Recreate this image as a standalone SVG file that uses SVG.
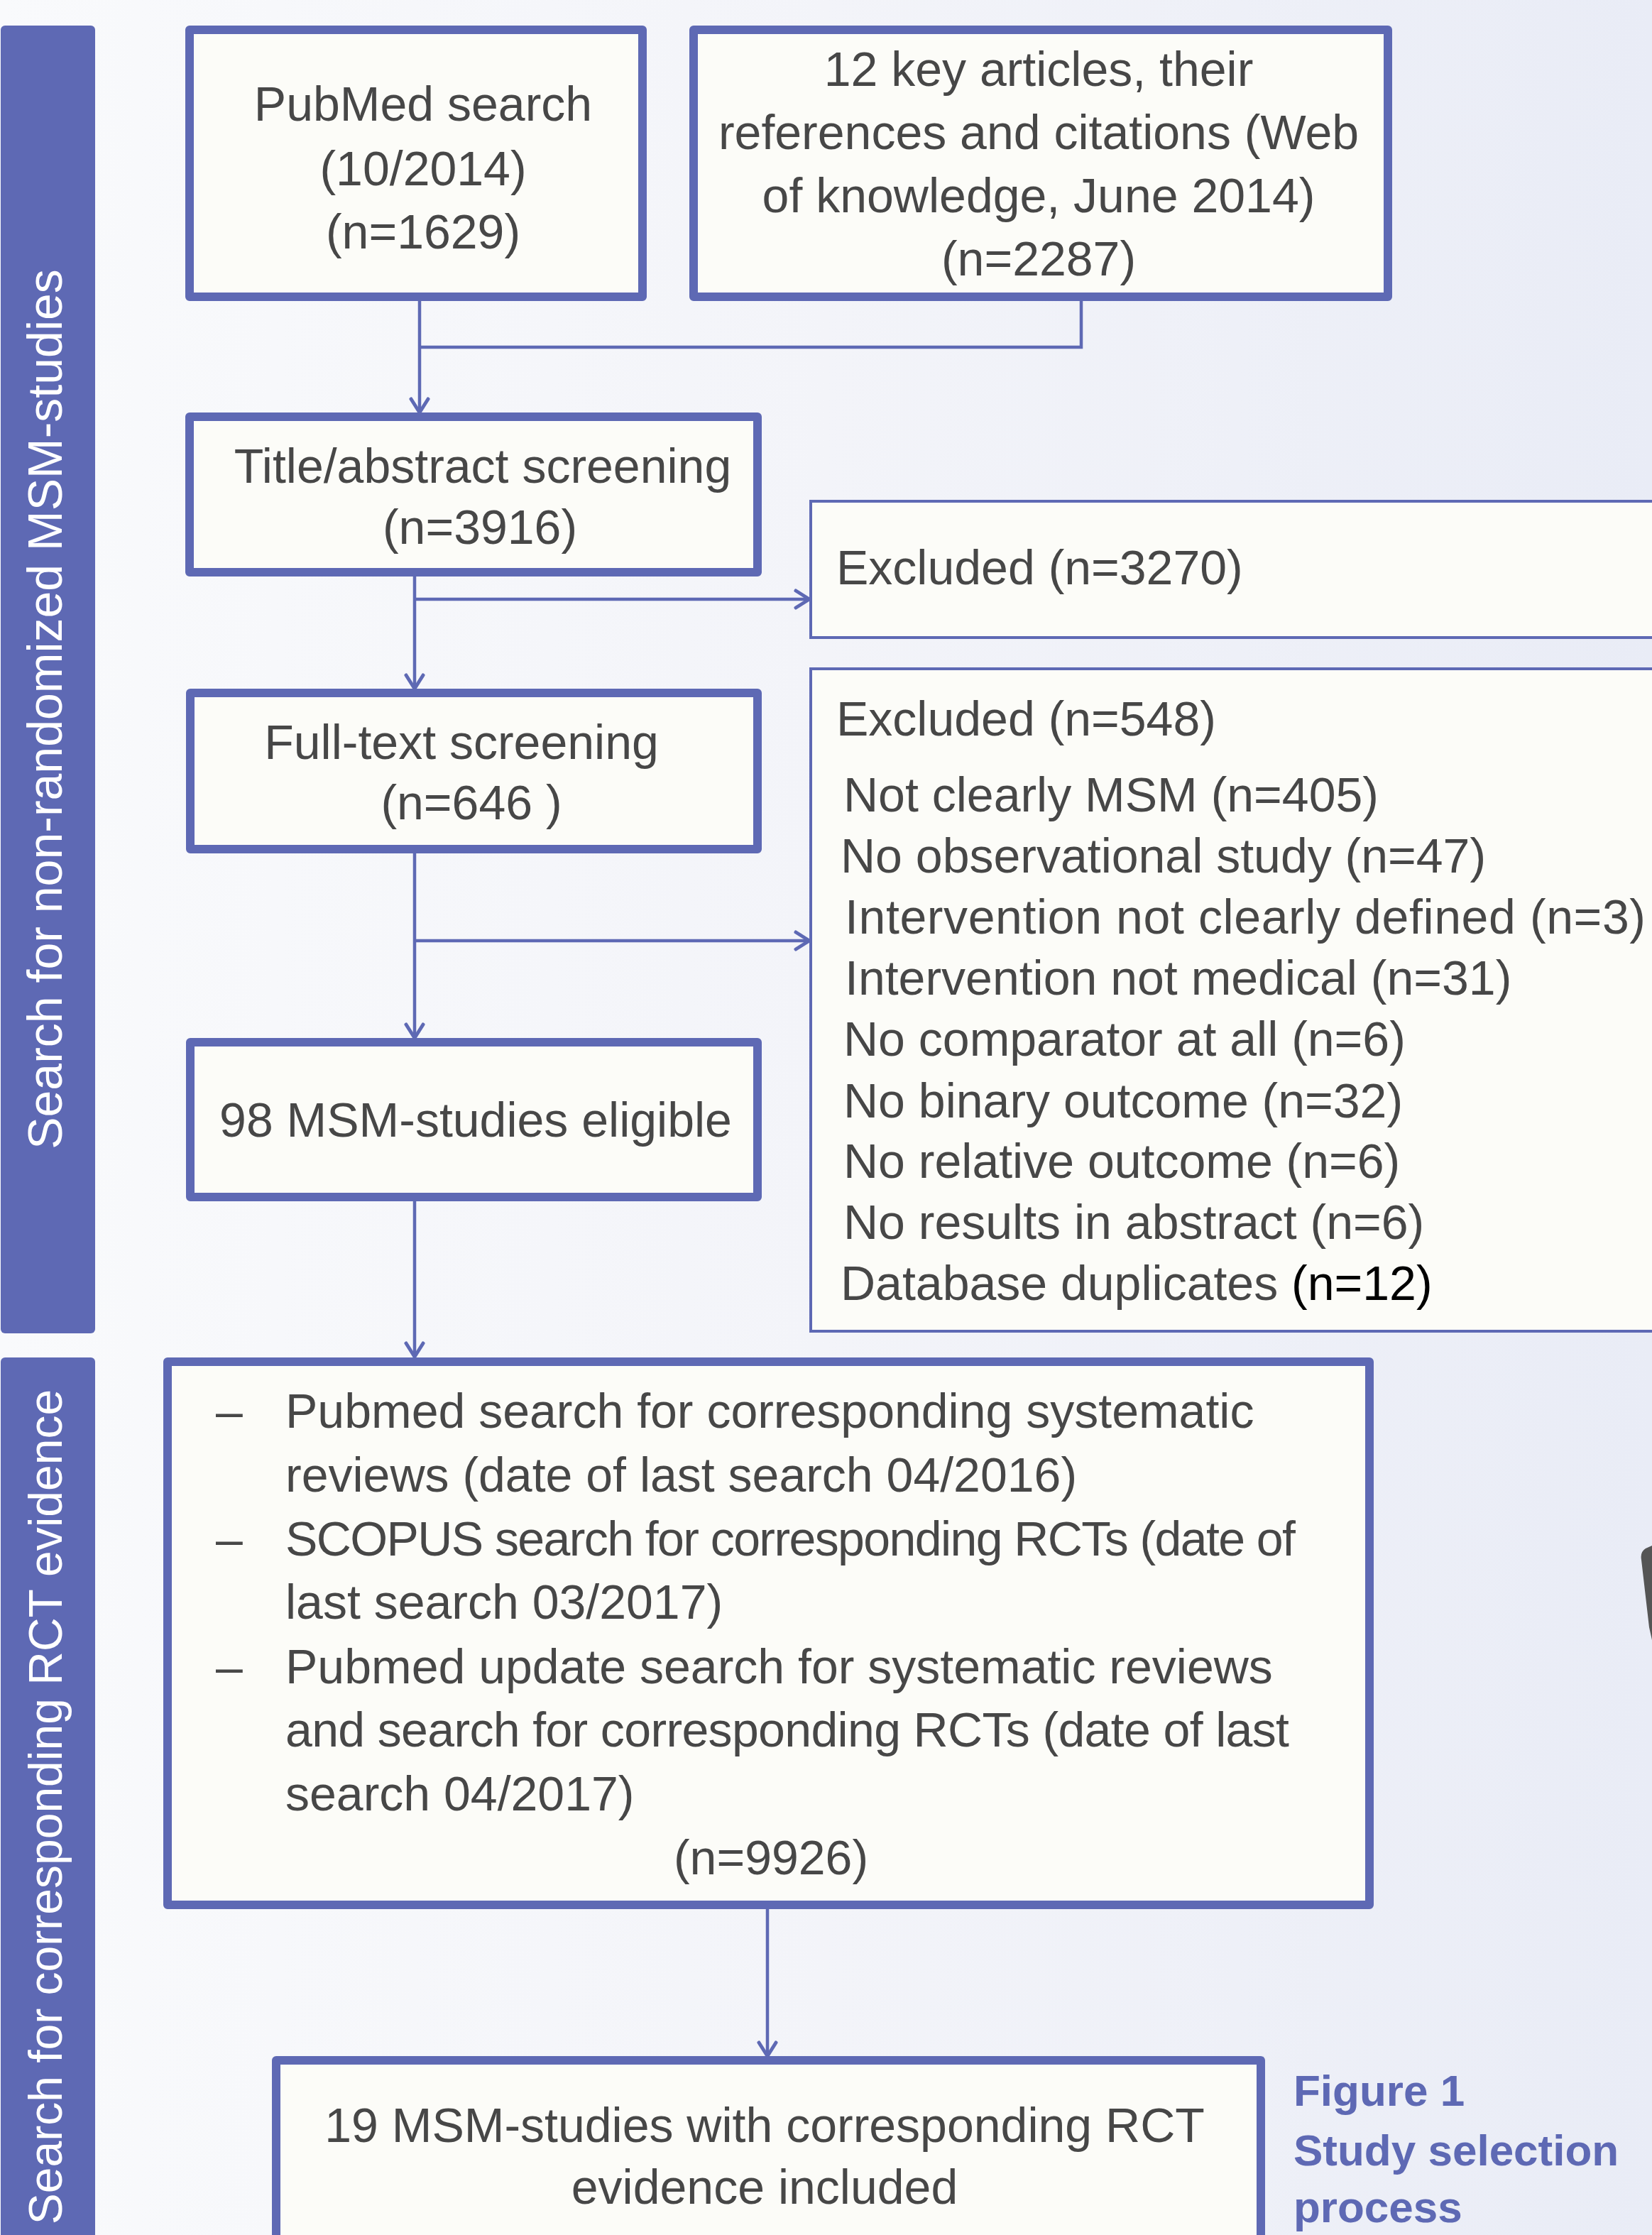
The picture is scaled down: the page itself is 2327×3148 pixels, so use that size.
<svg xmlns="http://www.w3.org/2000/svg" width="2327" height="3148" viewBox="0 0 2327 3148">
<defs>
<linearGradient id="bg" x1="0" y1="0" x2="1" y2="0">
<stop offset="0" stop-color="#f9fafc"/>
<stop offset="0.5" stop-color="#f3f4f9"/>
<stop offset="1" stop-color="#e9ecf6"/>
</linearGradient>
<marker id="arr" markerUnits="userSpaceOnUse" viewBox="-25 -15 30 30" refX="0" refY="0" markerWidth="30" markerHeight="30" orient="auto" overflow="visible">
<path d="M-19,-12 L0,0 L-19,12" fill="none" stroke="#5e69b4" stroke-width="5" stroke-linecap="round" stroke-linejoin="round"/>
</marker>
<style>
.box{fill:#fcfcf8;stroke:#5e69b4;stroke-width:12;stroke-linejoin:round}
.tbox{fill:#fcfcf8;stroke:#5e69b4;stroke-width:4}
.side{fill:#5e69b4}
.t{font-family:"Liberation Sans",Arial,sans-serif;font-size:68px;fill:#474747}
.c{text-anchor:middle}
.st{font-family:"Liberation Sans",Arial,sans-serif;fill:#ffffff;text-anchor:middle}
.fig{font-family:"Liberation Sans",Arial,sans-serif;font-size:62px;font-weight:bold;fill:#5e69b4}
.ln{fill:none;stroke:#5e69b4;stroke-width:4.5}
</style>
</defs>
<rect x="0" y="0" width="2327" height="3148" fill="url(#bg)"/>

<g id="sidebar1">
<rect class="side" x="1" y="36" width="133" height="1842" rx="6"/>
<text class="st" font-size="68" transform="translate(87,999) rotate(-90)">Search for non-randomized MSM-studies</text>
</g>
<g id="sidebar2">
<rect class="side" x="1" y="1912" width="133" height="1260" rx="6"/>
<text class="st" font-size="66" transform="translate(87,2545) rotate(-90)">Search for corresponding RCT evidence</text>
</g>

<g id="connectors">
<path class="ln" d="M591,424 V581" marker-end="url(#arr)"/>
<path class="ln" d="M591,489 H1523 V424"/>
<path class="ln" d="M584,812 V970" marker-end="url(#arr)"/>
<path class="ln" d="M584,844 H1140" marker-end="url(#arr)"/>
<path class="ln" d="M584,1202 V1462" marker-end="url(#arr)"/>
<path class="ln" d="M584,1325 H1140" marker-end="url(#arr)"/>
<path class="ln" d="M584,1692 V1911" marker-end="url(#arr)"/>
<path class="ln" d="M1081,2689 V2896" marker-end="url(#arr)"/>
</g>

<g id="pubmed">
<rect class="box" x="267" y="42" width="638" height="376"/>
<text class="t c" x="596" y="170">PubMed search</text>
<text class="t c" x="596" y="261">(10/2014)</text>
<text class="t c" x="596" y="350">(n=1629)</text>
</g>

<g id="keyarticles">
<rect class="box" x="977" y="42" width="978" height="376"/>
<text class="t c" x="1463" y="121">12 key articles, their</text>
<text class="t c" x="1463" y="210">references and citations (Web</text>
<text class="t c" x="1463" y="299">of knowledge, June 2014)</text>
<text class="t c" x="1463" y="388">(n=2287)</text>
</g>

<g id="titleabstract">
<rect class="box" x="267" y="587" width="800" height="219"/>
<text class="t c" x="680" y="680">Title/abstract screening</text>
<text class="t c" x="676" y="766">(n=3916)</text>
</g>

<g id="excluded1">
<rect class="tbox" x="1142" y="706" width="1200" height="192"/>
<text class="t" x="1178" y="823">Excluded (n=3270)</text>
</g>

<g id="fulltext">
<rect class="box" x="268" y="976" width="799" height="220"/>
<text class="t c" x="650" y="1069">Full-text screening</text>
<text class="t c" x="664" y="1154">(n=646 )</text>
</g>

<g id="excluded2">
<rect class="tbox" x="1142" y="942" width="1200" height="933"/>
<text class="t" x="1178" y="1036">Excluded (n=548)</text>
<text class="t" x="1188" y="1143">Not clearly MSM (n=405)</text>
<text class="t" x="1184" y="1229">No observational study (n=47)</text>
<text class="t" x="1190" y="1315" textLength="1128" lengthAdjust="spacing">Intervention not clearly defined (n=3)</text>
<text class="t" x="1190" y="1401">Intervention not medical (n=31)</text>
<text class="t" x="1188" y="1487">No comparator at all (n=6)</text>
<text class="t" x="1188" y="1574">No binary outcome (n=32)</text>
<text class="t" x="1188" y="1659">No relative outcome (n=6)</text>
<text class="t" x="1188" y="1745">No results in abstract (n=6)</text>
<text class="t" x="1184" y="1831">Database duplicates <tspan fill="#000000">(n=12)</tspan></text>
</g>

<g id="eligible">
<rect class="box" x="268" y="1468" width="799" height="218"/>
<text class="t c" x="670" y="1601">98 MSM-studies eligible</text>
</g>

<g id="rctsearch">
<rect class="box" x="236" y="1918" width="1693" height="765"/>
<text class="t" x="304" y="2011">–</text>
<text class="t" x="402" y="2011">Pubmed search for corresponding systematic</text>
<text class="t" x="402" y="2101">reviews (date of last search 04/2016)</text>
<text class="t" x="304" y="2191">–</text>
<text class="t" x="402" y="2191" textLength="1423" lengthAdjust="spacing">SCOPUS search for corresponding RCTs (date of</text>
<text class="t" x="402" y="2280">last search 03/2017)</text>
<text class="t" x="304" y="2371">–</text>
<text class="t" x="402" y="2371">Pubmed update search for systematic reviews</text>
<text class="t" x="402" y="2460" textLength="1414" lengthAdjust="spacing">and search for corresponding RCTs (date of last</text>
<text class="t" x="402" y="2550">search 04/2017)</text>
<text class="t c" x="1086" y="2640">(n=9926)</text>
</g>

<g id="included">
<rect class="box" x="389" y="2902" width="1387" height="320"/>
<text class="t c" x="1077" y="3017">19 MSM-studies with corresponding RCT</text>
<text class="t c" x="1077" y="3104">evidence included</text>
</g>

<g id="caption">
<text class="fig" x="1822" y="2966">Figure 1</text>
<text class="fig" x="1822" y="3050">Study selection</text>
<text class="fig" x="1822" y="3130">process</text>
</g>

<path d="M2327,2177 L2318,2181 Q2310,2186 2312,2197 L2323,2292 L2327,2310 Z" fill="#555555"/>
</svg>
